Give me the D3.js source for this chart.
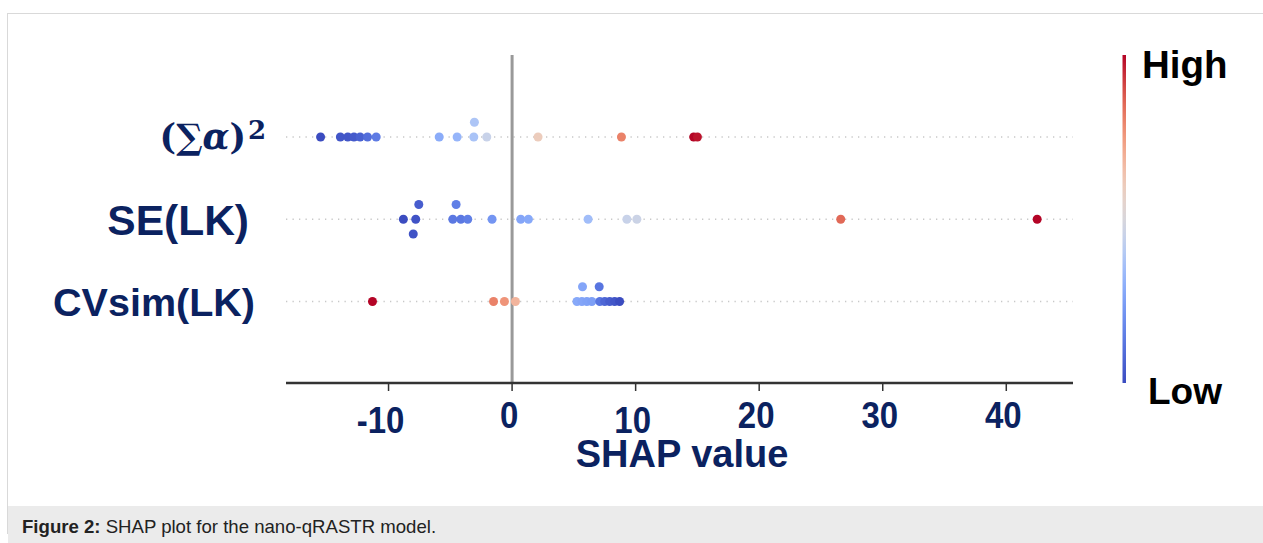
<!DOCTYPE html>
<html>
<head>
<meta charset="utf-8">
<script src="https://cdn.jsdelivr.net/npm/d3@7"></script>
<style>
  html, body { margin: 0; padding: 0; background: #fff; }
  svg { display: block; }
</style>
</head>
<body>
<svg id="chart" width="1263" height="543"></svg>
<script>
// ---------------- data ----------------
const features = ["sumAlpha", "SE(LK)", "CVsim(LK)"];
// SHAP values per feature
const shapSumAlpha = [-15.5, -13.9, -13.3, -12.8, -12.3, -11.7, -11.0, -5.9, -4.45, -3.1, -3.05, -2.05, 2.1, 8.85, 14.7, 15.0];
const shapSELK     = [-8.8, -7.8, -7.55, -8.0, -4.8, -4.53, -4.15, -3.59, -1.62, 0.70, 1.32, 6.15, 9.29, 10.1, 26.6, 42.5];
const shapCVsimLK  = [-11.3, -1.5, -0.62, 0.27, 5.25, 5.65, 5.7, 6.05, 6.45, 7.1, 7.05, 7.5, 7.9, 8.3, 8.7];
// normalised feature values (0 = low, 1 = high)
const featSumAlpha = [0.0, 0.03, 0.03, 0.04, 0.06, 0.10, 0.14, 0.29, 0.32, 0.37, 0.38, 0.45, 0.60, 0.80, 1.0, 0.98];
const featSELK     = [0.0, 0.02, 0.05, 0.02, 0.13, 0.15, 0.13, 0.15, 0.22, 0.27, 0.28, 0.35, 0.45, 0.46, 0.85, 1.0];
const featCVsimLK  = [1.0, 0.80, 0.76, 0.68, 0.28, 0.27, 0.27, 0.26, 0.25, 0.12, 0.12, 0.08, 0.05, 0.03, 0.0];
const xTicks = [-10, 0, 10, 20, 30, 40];
const xTickLabels = ["-10", "0", "10", "20", "30", "40"];
const xTitle = "SHAP value";
const legendHigh = "High";
const legendLow = "Low";
const captionBold = "Figure 2:";
const captionText = " SHAP plot for the nano-qRASTR model.";

const rows = [
  {name: features[0], shap: shapSumAlpha, feat: featSumAlpha},
  {name: features[1], shap: shapSELK, feat: featSELK},
  {name: features[2], shap: shapCVsimLK, feat: featCVsimLK}
];

// ---------------- setup ----------------
const svg = d3.select("#chart");
const navy = "#0b2260";
const sans = "Liberation Sans, Arial, sans-serif";
const coolwarm = d3.interpolateRgbBasis(["#3b4cc0", "#5977e3", "#7b9ff9", "#aac7fd", "#dddcdc", "#f2cbb7", "#f49a7b", "#de604d", "#b40426"]);
const color = d3.scaleSequential(coolwarm).domain([0, 1]);

const x = d3.scaleLinear().domain([-18.3, 45.4]).range([286, 1073]);
const y = d3.scalePoint().domain(features).range([137, 301.5]);
const step = y.step();

// frame + caption bar
svg.append("rect").attr("x", 7.5).attr("y", 13.5).attr("width", 1270).attr("height", 520)
  .attr("fill", "#fff").attr("stroke", "#d9d9d9").attr("stroke-width", 1);
svg.append("rect").attr("x", 8).attr("y", 506).attr("width", 1255).attr("height", 37).attr("fill", "#ebebeb");
const cap = svg.append("text").attr("x", 22).attr("y", 533)
  .attr("font-family", sans).attr("font-size", 18.6).attr("fill", "#222");
cap.append("tspan").attr("font-weight", "bold").text(captionBold);
cap.append("tspan").text(captionText);

// dotted row lines
svg.append("g").selectAll("line").data(features).join("line")
  .attr("x1", x.range()[0]).attr("x2", x.range()[1])
  .attr("y1", d => y(d)).attr("y2", d => y(d))
  .attr("stroke", "#c8c8c8").attr("stroke-width", 1.3).attr("stroke-dasharray", "1.3,5.2");

// zero line
svg.append("line").attr("x1", x(0)).attr("x2", x(0)).attr("y1", 55).attr("y2", 383)
  .attr("stroke", "#999").attr("stroke-width", 3);

// beeswarm layout (SHAP-style binning)
function swarm(row) {
  const vals = row.shap, n = vals.length, nbins = 100;
  const mn = d3.min(vals), mx = d3.max(vals);
  const quant = vals.map(v => Math.round(nbins * (v - mn) / (mx - mn + 1e-8)));
  const inds = d3.range(n).sort((a, b) => quant[a] - quant[b] || a - b);
  const ys = new Array(n).fill(0);
  let layer = 0, last = null;
  inds.forEach(i => {
    if (quant[i] !== last) layer = 0;
    ys[i] = Math.ceil(layer / 2) * ((layer % 2) * 2 - 1);
    layer += 1; last = quant[i];
  });
  const mxy = d3.max(ys.map(Math.abs));
  const k = 0.9 * (0.4 / (mxy + 1));
  return d3.range(n).map(i => ({v: vals[i], f: row.feat[i], dy: ys[i] * k * step, row: row.name}));
}
const points = rows.flatMap(swarm);
svg.append("g").selectAll("circle").data(points).join("circle")
  .attr("cx", d => x(d.v)).attr("cy", d => y(d.row) - d.dy)
  .attr("r", 4.5).attr("fill", d => color(d.f));

// x axis
const axisG = svg.append("g").attr("transform", "translate(0,383)");
axisG.append("line").attr("x1", x.range()[0]).attr("x2", x.range()[1])
  .attr("stroke", "#333").attr("stroke-width", 2.5);
axisG.selectAll("line.tick").data(xTicks).join("line").attr("class", "tick")
  .attr("x1", d => x(d)).attr("x2", d => x(d)).attr("y1", 0).attr("y2", 8)
  .attr("stroke", "#333").attr("stroke-width", 1.5);
axisG.selectAll("text.tl").data(xTicks).join("text").attr("class", "tl")
  .attr("transform", d => `translate(${x(d) + (d < 0 ? -8 : -3)},${(d === -10 || d === 10) ? 49.5 : 45}) scale(1,1.12)`)
  .attr("text-anchor", "middle")
  .attr("font-family", sans).attr("font-weight", "bold")
  .attr("font-size", 33).attr("fill", navy)
  .text((d, i) => xTickLabels[i]);
svg.append("text").attr("x", 682).attr("y", 467).attr("text-anchor", "middle")
  .attr("font-family", sans).attr("font-weight", "bold")
  .attr("font-size", 38).attr("fill", navy).text(xTitle);

// y labels
const lab0 = svg.append("text").attr("x", 246).attr("y", y(features[0])).attr("dy", "0.35em")
  .attr("text-anchor", "end").attr("font-family", "DejaVu Serif, serif").attr("font-weight", "bold")
  .attr("font-size", 35).attr("fill", navy);
lab0.append("tspan").text("(\u2211");
lab0.append("tspan").attr("font-style", "italic").text("\u03B1");
lab0.append("tspan").text(")");
svg.append("text").attr("x", 248).attr("y", y(features[0]) + 2)
  .attr("font-family", "DejaVu Serif, serif").attr("font-weight", "bold")
  .attr("font-size", 26).attr("fill", navy).text("2");
const ylabStyle = {"SE(LK)": {size: 42.5, end: 249}, "CVsim(LK)": {size: 39.5, end: 255}};
svg.selectAll("text.ylab").data(features.slice(1)).join("text").attr("class", "ylab")
  .attr("x", d => ylabStyle[d].end).attr("y", d => y(d)).attr("dy", "0.36em").attr("text-anchor", "end")
  .attr("font-family", sans).attr("font-weight", "bold")
  .attr("font-size", d => ylabStyle[d].size).attr("fill", navy).text(d => d);

// colorbar
const defs = svg.append("defs");
const grad = defs.append("linearGradient").attr("id", "cbar").attr("x1", 0).attr("y1", 1).attr("x2", 0).attr("y2", 0);
d3.range(0, 1.0001, 0.05).forEach(t => grad.append("stop").attr("offset", t).attr("stop-color", color(t)));
svg.append("rect").attr("x", 1122.5).attr("y", 55).attr("width", 3.5).attr("height", 328).attr("fill", "url(#cbar)");
svg.append("text").attr("x", 1142).attr("y", 78).attr("font-family", sans)
  .attr("font-weight", "bold").attr("font-size", 38.5).attr("fill", "#000").text(legendHigh);
svg.append("text").attr("x", 1148).attr("y", 404).attr("font-family", sans)
  .attr("font-weight", "bold").attr("font-size", 37).attr("fill", "#000").text(legendLow);
</script>
</body>
</html>
